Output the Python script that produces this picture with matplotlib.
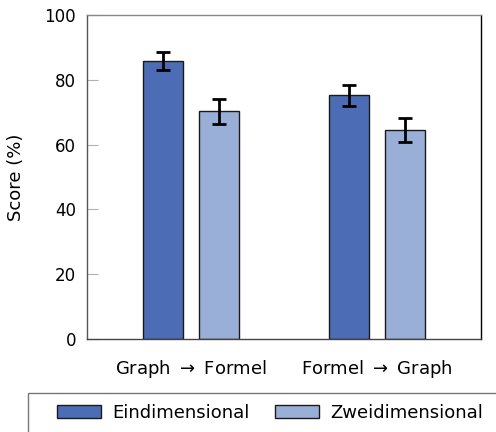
import numpy as np
import matplotlib
matplotlib.use("Agg")
import matplotlib.pyplot as plt
from matplotlib.patches import Rectangle

categories = [r"Graph $\rightarrow$ Formel", r"Formel $\rightarrow$ Graph"]
series_names = ["Eindimensional", "Zweidimensional"]
eindimensional = [85.8, 75.2]
eindimensional_err = [2.9, 3.2]
zweidimensional = [70.3, 64.5]
zweidimensional_err = [3.8, 3.7]
y_ticks = [0, 20, 40, 60, 80, 100]

plt.rcParams["font.family"] = ["DejaVu Sans"]
plt.rcParams["mathtext.fontset"] = "dejavusans"
plt.rcParams["font.size"] = 13

fig = plt.figure(figsize=(4.96, 4.32), dpi=100)
ax = fig.add_axes([87 / 496, 1 - 339 / 432, (481 - 87) / 496, (339 - 15) / 432])

x = np.arange(len(categories))
offset = 0.15
width = 0.215
err_style = dict(ecolor="black", elinewidth=2, capsize=5, capthick=2)

ax.bar(x - offset, eindimensional, width, yerr=eindimensional_err,
       color="#4C6DB5", edgecolor="#1a1a1a", linewidth=1,
       label=series_names[0], error_kw=err_style, zorder=2)
ax.bar(x + offset, zweidimensional, width, yerr=zweidimensional_err,
       color="#9AAFD8", edgecolor="#1a1a1a", linewidth=1,
       label=series_names[1], error_kw=err_style, zorder=2)

ax.set_xlim(-0.56, 1.56)
ax.set_ylim(0, 100)
ax.set_xticks(x)
ax.set_xticklabels(categories)
ax.set_yticks(y_ticks)
ax.tick_params(axis="x", length=0, pad=14)
ax.tick_params(axis="y", direction="in", length=8, color="#b0b0b0",
               pad=8, labelsize=12)
ax.set_ylabel("Score (%)", labelpad=14)

ax.spines["top"].set_color("#888888")
ax.spines["left"].set_color("#555555")
ax.spines["bottom"].set_color("#444444")
ax.spines["right"].set_color("black")
for s in ax.spines.values():
    s.set_linewidth(1)

# legend entries without frame, frame drawn separately (it runs off the page)
leg = fig.legend(loc="center left", bbox_to_anchor=(57 / 496, 1 - 413 / 432),
                 ncol=2, frameon=False, handlelength=2.45,
                 handleheight=0.75, handletextpad=0.6, columnspacing=1.4,
                 borderpad=0, borderaxespad=0)
fig.patches.append(Rectangle((28 / 496, -0.05), 1.0, 1 - 393 / 432 + 0.05,
                             transform=fig.transFigure, fill=False,
                             edgecolor="#777777", linewidth=1))

fig.savefig("out.png", dpi=100)
